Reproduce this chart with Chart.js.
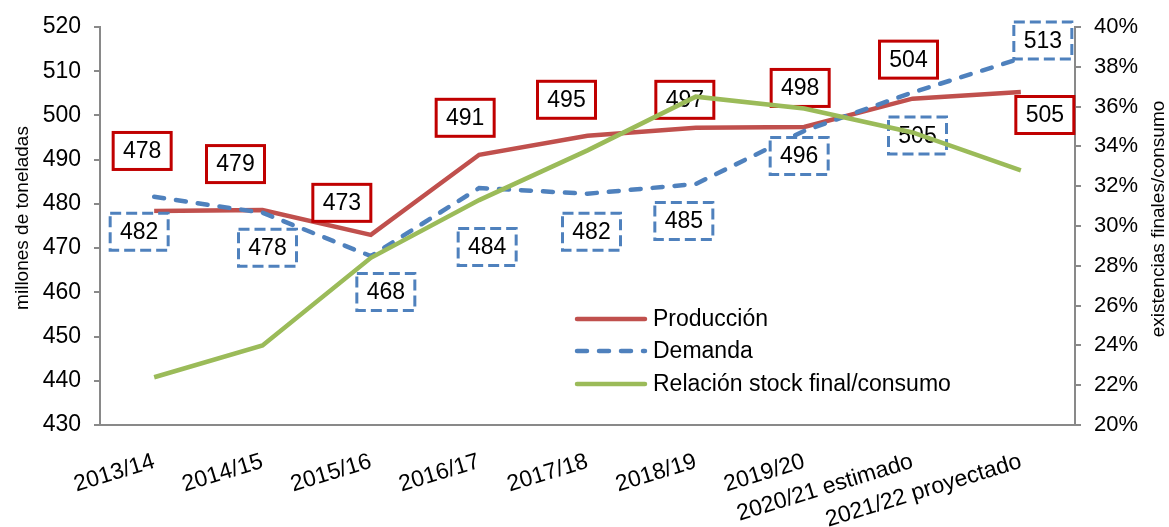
<!DOCTYPE html>
<html><head><meta charset="utf-8">
<script src="https://cdn.jsdelivr.net/npm/chart.js@4.4.1/dist/chart.umd.min.js"></script>
<style>html,body{margin:0;padding:0;background:#fff;}#wrap{width:1169px;height:527px;}</style>
</head><body><div id="wrap"><canvas id="c" width="1169" height="527"></canvas></div>
<script>
const categories = ['2013/14','2014/15','2015/16','2016/17','2017/18','2018/19','2019/20','2020/21 estimado','2021/22 proyectado'];
const produccion = [478.4, 478.6, 473.0, 491.1, 495.4, 497.2, 497.4, 503.8, 505.3];
const demanda = [481.6, 478.0, 468.2, 483.6, 482.3, 484.5, 496.5, 505.2, 512.9];
const relacionStock = [22.4, 24.0, 28.4, 31.3, 33.8, 36.5, 35.9, 34.7, 32.8];
const produccionLabels = ['478','479','473','491','495','497','498','504','505'];
const demandaLabels = ['482','478','468','484','482','485','496','505','513'];
const leftAxis = {min: 430, max: 520, step: 10};
const rightAxis = {min: 20, max: 40, step: 2};

// label box placement (pixel offsets from each point)
const prodOffsets = [[-12,-60],[-27,-46],[-29,-32],[-14,-37],[-21,-36],[-11,-28],[-4,-39],[-4,-39],[24,23]];
const demOffsets = [[-15,35],[5,35],[15,36],[8,59],[4,38],[-12,37],[-5,25],[5,43],[22,-18]];

const FONT = "'Liberation Sans', Arial, sans-serif";
const RED = '#C0504D', BLUE = '#4F81BD', GREEN = '#9BBB59', AXIS = '#898989';

function drawBoxes(chart, values, texts, offsets, stroke, dash) {
  const ctx = chart.ctx, xs = chart.scales.x, ys = chart.scales.y;
  const w = 58, h = 37;
  values.forEach((v, i) => {
    const cx = xs.getPixelForValue(i) + offsets[i][0];
    const cy = ys.getPixelForValue(v) + offsets[i][1];
    ctx.save();
    ctx.fillStyle = '#fff';
    ctx.fillRect(cx - w/2, cy - h/2, w, h);
    ctx.lineWidth = 3;
    ctx.strokeStyle = stroke;
    ctx.setLineDash(dash);
    ctx.strokeRect(cx - w/2, cy - h/2, w, h);
    ctx.setLineDash([]);
    ctx.fillStyle = '#000';
    ctx.font = '23px ' + FONT;
    ctx.textAlign = 'center';
    ctx.textBaseline = 'middle';
    ctx.fillText(texts[i], cx, cy + 1);
    ctx.restore();
  });
}

const customPlugin = {
  id: 'custom',
  afterDatasetDraw(chart, args) {
    if (args.index !== 1) return;
    drawBoxes(chart, produccion, produccionLabels, prodOffsets, '#C00000', []);
    drawBoxes(chart, demanda, demandaLabels, demOffsets, BLUE, [11, 5]);
  },
  afterDraw(chart) {
    const ctx = chart.ctx;
    const items = chart.data.datasets;
    const ys = [319, 351, 384];
    items.forEach((ds, i) => {
      ctx.save();
      ctx.strokeStyle = ds.borderColor;
      ctx.lineWidth = 4.5;
      ctx.lineCap = 'round';
      ctx.setLineDash(ds.borderDash || []);
      ctx.beginPath();
      ctx.moveTo(577, ys[i]);
      ctx.lineTo(645, ys[i]);
      ctx.stroke();
      ctx.setLineDash([]);
      ctx.fillStyle = '#000';
      ctx.font = '23px ' + FONT;
      ctx.textAlign = 'left';
      ctx.textBaseline = 'middle';
      ctx.fillText(ds.label, 653, ys[i] + 1);
      ctx.restore();
    });
    ctx.save();
    ctx.fillStyle = '#000';
    ctx.font = '19px ' + FONT;
    ctx.textAlign = 'center';
    ctx.textBaseline = 'middle';
    ctx.translate(23, 218);
    ctx.rotate(-Math.PI/2);
    ctx.fillText('millones de toneladas', 0, 0);
    ctx.restore();
    ctx.save();
    ctx.fillStyle = '#000';
    ctx.font = '19px ' + FONT;
    ctx.textAlign = 'center';
    ctx.textBaseline = 'middle';
    ctx.translate(1159, 219);
    ctx.rotate(-Math.PI/2);
    ctx.fillText('existencias finales/consumo', 0, 0);
    ctx.restore();
  }
};

new Chart(document.getElementById('c'), {
  type: 'line',
  data: {
    labels: categories,
    datasets: [
      {label: 'Producción', data: produccion, yAxisID: 'y', borderColor: RED, backgroundColor: RED, borderWidth: 4.5, pointRadius: 0, tension: 0, order: 3},
      {label: 'Demanda', data: demanda, yAxisID: 'y', borderColor: BLUE, backgroundColor: BLUE, borderWidth: 4.5, borderDash: [10, 12], borderCapStyle: 'round', pointRadius: 0, tension: 0, order: 2},
      {label: 'Relación stock final/consumo', data: relacionStock, yAxisID: 'y1', borderColor: GREEN, backgroundColor: GREEN, borderWidth: 4.5, pointRadius: 0, tension: 0, order: 1}
    ]
  },
  options: {
    responsive: false,
    animation: false,
    layout: {padding: {top: 27, left: 0, right: 0, bottom: 0}},
    plugins: {legend: {display: false}, tooltip: {enabled: false}},
    scales: {
      x: {
        offset: true,
        grid: {display: false},
        border: {display: true, color: AXIS, width: 2},
        ticks: {color: '#000', font: {family: FONT, size: 23}, maxRotation: 17, minRotation: 17, autoSkip: false, padding: 15},
        afterFit(s) { s.height = 102; }
      },
      y: {
        position: 'left',
        min: leftAxis.min, max: leftAxis.max,
        grid: {drawOnChartArea: false, color: AXIS, lineWidth: 2, tickLength: 6},
        border: {color: AXIS, width: 2},
        ticks: {stepSize: leftAxis.step, color: '#000', font: {family: FONT, size: 23}, padding: 13},
        afterFit(s) { s.width = 100; }
      },
      y1: {
        position: 'right',
        min: rightAxis.min, max: rightAxis.max,
        grid: {drawOnChartArea: false, color: AXIS, lineWidth: 2, tickLength: 6},
        border: {color: AXIS, width: 2},
        ticks: {stepSize: rightAxis.step, color: '#000', font: {family: FONT, size: 22}, padding: 13, callback: v => v + '%'},
        afterFit(s) { s.width = 94; }
      }
    }
  },
  plugins: [customPlugin]
});
</script></body></html>
